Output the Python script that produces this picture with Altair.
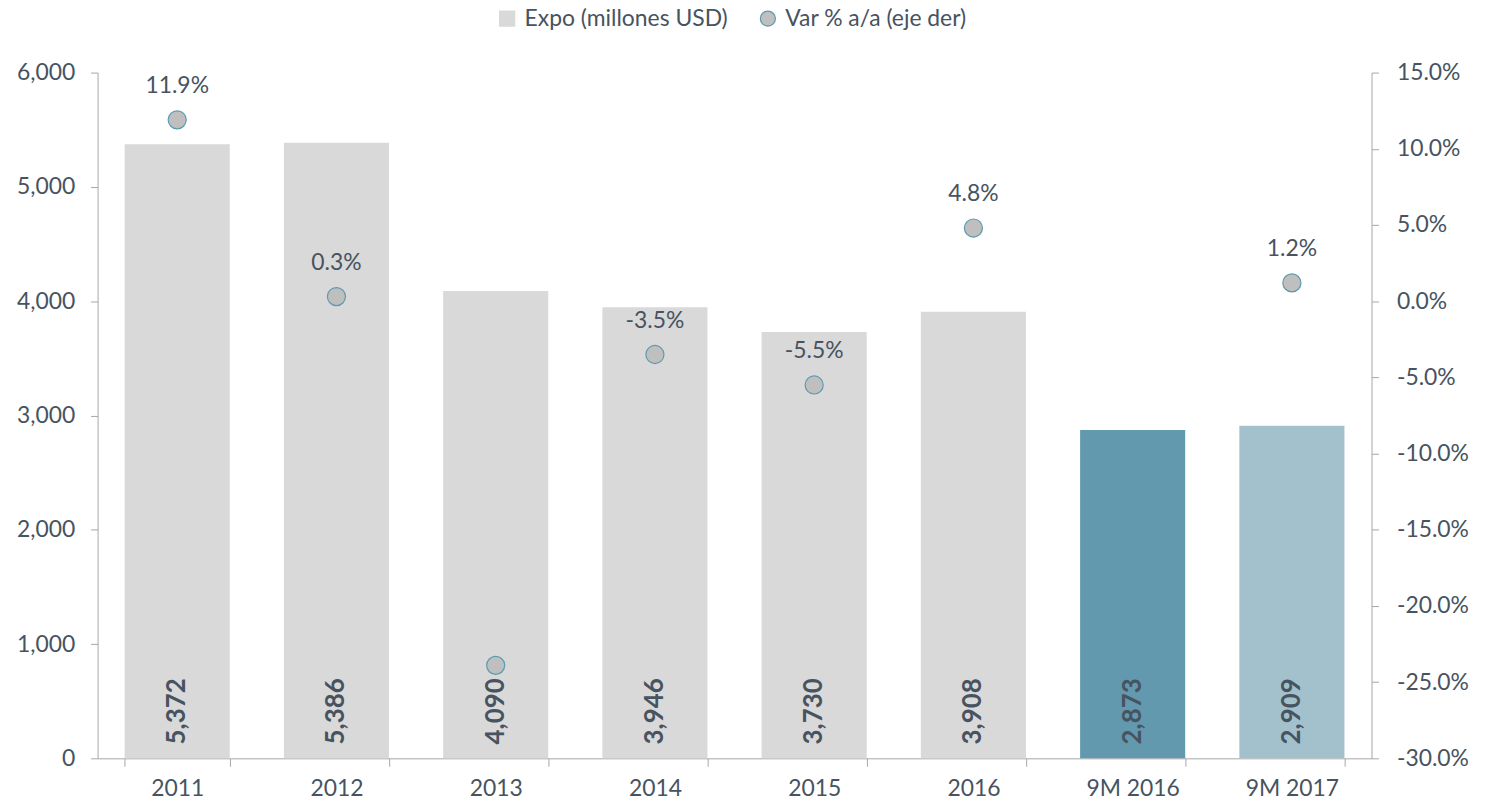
import altair as alt
import pandas as pd

categories = ["2011", "2012", "2013", "2014", "2015", "2016", "9M 2016", "9M 2017"]
expo = [5372, 5386, 4090, 3946, 3730, 3908, 2873, 2909]
bar_colors = ["#D9D9D9"] * 6 + ["#6399AE", "#A3C1CD"]
var_pct = [11.9, 0.3, -23.9, -3.5, -5.5, 4.8, None, 1.2]
show_label = [True, True, False, True, True, True, False, True]

S_EXPO = "Expo (millones USD)"
S_VAR = "Var % a/a (eje der)"
TXT = "#475360"
FONT = "Lato"
FS = 23

bars_df = pd.DataFrame({"cat": categories, "expo": expo, "col": bar_colors})
pts_df = pd.DataFrame({"cat": categories, "var": var_pct, "show": show_label,
                       "serie": [S_VAR] * len(categories)})
pts_df = pts_df[pts_df["var"].notna()]
lbl_df = pts_df[pts_df["show"]].copy()
lbl_df["txt"] = [f"{v:.1f}%" for v in lbl_df["var"]]

x = alt.X("cat:N", sort=categories, title=None,
          scale=alt.Scale(paddingInner=0.34, paddingOuter=0.17),
          axis=alt.Axis(labelAngle=0, tickBand="extent", domainColor="#A6A6A6",
                        tickColor="#A6A6A6", tickSize=8, labelFontSize=FS,
                        labelColor=TXT, labelFont=FONT, labelPadding=11))

bars = alt.Chart(bars_df).mark_bar().encode(
    x=x,
    y=alt.Y("expo:Q", scale=alt.Scale(domain=[0, 6000], nice=False), title=None,
            axis=alt.Axis(values=[0, 1000, 2000, 3000, 4000, 5000, 6000],
                          labelExpr="format(datum.value, ',')",
                          grid=False, domainColor="#A6A6A6", tickColor="#A6A6A6",
                          tickSize=7, labelFontSize=FS, labelColor=TXT, labelFont=FONT,
                          labelPadding=16)),
    color=alt.Color("col:N", scale=None, legend=None),
)
bar_text = alt.Chart(bars_df).mark_text(
    angle=270, align="left", baseline="middle", dx=14, fontSize=26,
    fontWeight="bold", color=TXT, font=FONT
).encode(
    x=alt.X("cat:N", sort=categories),
    y=alt.YDatum(0, type="quantitative"),
    text=alt.Text("expo:Q", format=","),
)
left = alt.layer(bars, bar_text)

leg = dict(title=None, orient="none", direction="horizontal",
           legendX=400, legendY=-66, labelFontSize=FS, labelLimit=0,
           labelColor=TXT, labelFont=FONT, symbolSize=230,
           columnPadding=28, labelOffset=6, symbolStrokeWidth=1.2)
dom = [S_EXPO, S_VAR]
points = alt.Chart(pts_df).mark_point(filled=True, size=330, strokeWidth=1.2, opacity=1).encode(
    x=alt.X("cat:N", sort=categories),
    y=alt.Y("var:Q", scale=alt.Scale(domain=[-30, 15], nice=False), title=None,
            axis=alt.Axis(orient="right", values=list(range(-30, 16, 5)),
                          labelExpr="replace(format(datum.value, '.1f'), '\u2212', '-') + '%'",
                          grid=False, domainColor="#A6A6A6", tickColor="#A6A6A6",
                          tickSize=7, labelFontSize=FS, labelColor=TXT, labelFont=FONT,
                          labelPadding=18)),
    shape=alt.Shape("serie:N", scale=alt.Scale(domain=dom, range=["square", "circle"]),
                    legend=alt.Legend(**leg)),
    fill=alt.Fill("serie:N", scale=alt.Scale(domain=dom, range=["#D9D9D9", "#BFBFBF"]),
                  legend=alt.Legend(**leg)),
    stroke=alt.Stroke("serie:N", scale=alt.Scale(domain=dom, range=["#D9D9D9", "#5B9BAF"]),
                      legend=alt.Legend(**leg)),
)
pt_text = alt.Chart(lbl_df).mark_text(
    dy=-34, fontSize=FS, color=TXT, font=FONT
).encode(
    x=alt.X("cat:N", sort=categories),
    y=alt.Y("var:Q"),
    text="txt:N",
)
right = alt.layer(points, pt_text)

chart = alt.layer(left, right).resolve_scale(y="independent").properties(
    width=1280, height=689,
    autosize=alt.AutoSizeParams(type="none"),
    padding={"left": 90, "top": 63, "right": 110, "bottom": 44},
).configure_view(stroke=None)

chart.save("out.html", embed_options={"renderer": "svg", "actions": False})
